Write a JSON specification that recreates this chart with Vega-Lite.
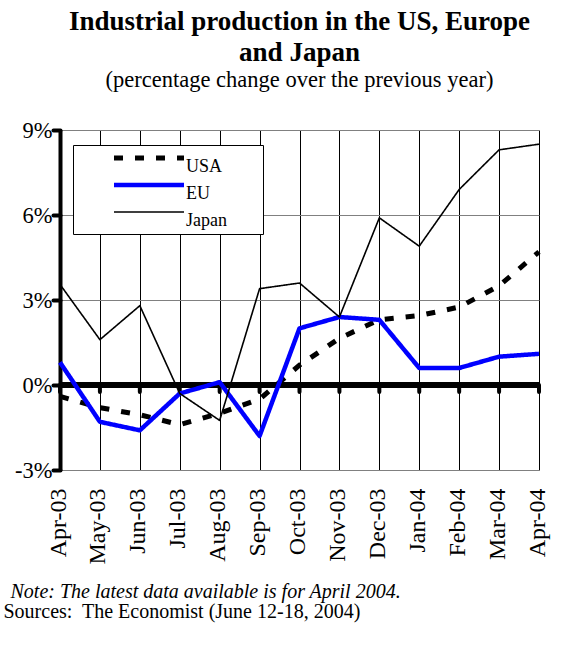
{
  "$schema": "https://vega.github.io/schema/vega-lite/v6.json",
  "autosize": {"type": "none"},
  "padding": {"left": 60, "top": 130, "right": 49, "bottom": 183},
  "width": 479,
  "height": 340,
  "background": "white",
  "title": {
    "text": ["Industrial production in the US, Europe", "and Japan"],
    "subtitle": "(percentage change over the previous year)",
    "font": "Liberation Serif",
    "fontSize": 27,
    "fontWeight": "bold",
    "lineHeight": 31,
    "subtitleFont": "Liberation Serif",
    "subtitleFontSize": 22.5,
    "subtitleColor": "black",
    "subtitlePadding": 2,
    "color": "black",
    "anchor": "middle",
    "frame": "group",
    "offset": 27
  },
  "config": {
    "view": {"stroke": null}
  },
  "datasets": {
    "prod": [
      {"month": "Apr-03", "series": "USA", "value": -0.4},
      {"month": "May-03", "series": "USA", "value": -0.8},
      {"month": "Jun-03", "series": "USA", "value": -1.05},
      {"month": "Jul-03", "series": "USA", "value": -1.4},
      {"month": "Aug-03", "series": "USA", "value": -1.0},
      {"month": "Sep-03", "series": "USA", "value": -0.5},
      {"month": "Oct-03", "series": "USA", "value": 0.7},
      {"month": "Nov-03", "series": "USA", "value": 1.65},
      {"month": "Dec-03", "series": "USA", "value": 2.3},
      {"month": "Jan-04", "series": "USA", "value": 2.45},
      {"month": "Feb-04", "series": "USA", "value": 2.75},
      {"month": "Mar-04", "series": "USA", "value": 3.5},
      {"month": "Apr-04", "series": "USA", "value": 4.7},
      {"month": "Apr-03", "series": "EU", "value": 0.8},
      {"month": "May-03", "series": "EU", "value": -1.3},
      {"month": "Jun-03", "series": "EU", "value": -1.6},
      {"month": "Jul-03", "series": "EU", "value": -0.3},
      {"month": "Aug-03", "series": "EU", "value": 0.1},
      {"month": "Sep-03", "series": "EU", "value": -1.8},
      {"month": "Oct-03", "series": "EU", "value": 2.0},
      {"month": "Nov-03", "series": "EU", "value": 2.4},
      {"month": "Dec-03", "series": "EU", "value": 2.3},
      {"month": "Jan-04", "series": "EU", "value": 0.6},
      {"month": "Feb-04", "series": "EU", "value": 0.6},
      {"month": "Mar-04", "series": "EU", "value": 1.0},
      {"month": "Apr-04", "series": "EU", "value": 1.1},
      {"month": "Apr-03", "series": "Japan", "value": 3.55},
      {"month": "May-03", "series": "Japan", "value": 1.6},
      {"month": "Jun-03", "series": "Japan", "value": 2.8},
      {"month": "Jul-03", "series": "Japan", "value": -0.3},
      {"month": "Aug-03", "series": "Japan", "value": -1.25},
      {"month": "Sep-03", "series": "Japan", "value": 3.4},
      {"month": "Oct-03", "series": "Japan", "value": 3.6},
      {"month": "Nov-03", "series": "Japan", "value": 2.4},
      {"month": "Dec-03", "series": "Japan", "value": 5.9},
      {"month": "Jan-04", "series": "Japan", "value": 4.9},
      {"month": "Feb-04", "series": "Japan", "value": 6.9},
      {"month": "Mar-04", "series": "Japan", "value": 8.3},
      {"month": "Apr-04", "series": "Japan", "value": 8.5}
    ]
  },
  "data": {"name": "prod"},
  "encoding": {
    "x": {
      "field": "month",
      "type": "ordinal",
      "sort": ["Apr-03","May-03","Jun-03","Jul-03","Aug-03","Sep-03","Oct-03","Nov-03","Dec-03","Jan-04","Feb-04","Mar-04","Apr-04"],
      "scale": {"type": "point", "padding": 0},
      "axis": {
        "orient": "bottom",
        "domain": false,
        "ticks": false,
        "grid": true,
        "gridColor": "black",
        "gridWidth": 1,
        "labelAngle": 270,
        "labelFont": "Liberation Serif",
        "labelFontSize": 24,
        "labelColor": "black",
        "labelPadding": 18,
        "labelBaseline": "middle",
        "labelOffset": -2,
        "title": "Note: The latest data available is for April 2004.",
        "titleFont": "Liberation Serif",
        "titleFontSize": 20,
        "titleFontStyle": "italic",
        "titleFontWeight": "normal",
        "titleColor": "black",
        "titleAngle": 0,
        "titleAlign": "left",
        "titleBaseline": "alphabetic",
        "titleX": -50,
        "titleY": 127
      }
    }
  },
  "layer": [
    {
      "mark": {"type": "rule", "color": "black", "strokeWidth": 4.5},
      "encoding": {
        "x": null,
        "y": {"datum": 0, "type": "quantitative"}
      }
    },
    {
      "transform": [{"filter": "datum.series === 'EU'"}],
      "mark": {"type": "rule", "color": "black", "strokeWidth": 4, "strokeCap": "round"},
      "encoding": {
        "y": {"datum": 0, "type": "quantitative"},
        "y2": {"datum": -0.25}
      }
    },
    {
      "mark": {"type": "line", "strokeCap": "butt", "strokeJoin": "round"},
      "encoding": {
        "y": {
          "field": "value",
          "type": "quantitative",
          "scale": {"domain": [-3, 9], "nice": false, "zero": false},
          "axis": {
            "values": [-3, 0, 3, 6, 9],
            "labelExpr": "datum.value + '%'",
            "labelFont": "Liberation Serif",
            "labelFontSize": 22.5,
            "labelColor": "black",
            "labelPadding": 1,
            "domainColor": "black",
            "domainWidth": 4,
            "tickColor": "black",
            "tickWidth": 4,
            "tickSize": 7,
            "tickCap": "round",
            "grid": true,
            "gridColor": "#808080",
            "gridWidth": 1,
            "title": "Sources:\u00a0 The Economist (June 12-18, 2004)",
            "titleFont": "Liberation Serif",
            "titleFontSize": 20,
            "titleFontWeight": "normal",
            "titleColor": "black",
            "titleAngle": 0,
            "titleAlign": "left",
            "titleBaseline": "alphabetic",
            "titleX": -57,
            "titleY": 487
          }
        },
        "color": {
          "field": "series",
          "type": "nominal",
          "sort": ["USA", "EU", "Japan"],
          "scale": {"domain": ["USA", "EU", "Japan"], "range": ["black", "#0000FF", "black"]},
          "legend": {
            "orient": "none",
            "legendX": 13,
            "legendY": 15,
            "title": null,
            "fillColor": "white",
            "strokeColor": "black",
            "padding": 4,
            "symbolType": "M-7,0H7M20,0",
            "symbolSize": 100,
            "symbolOffset": 63,
            "labelOffset": 28,
            "labelFont": "Liberation Serif",
            "labelFontSize": 18,
            "labelColor": "black",
            "labelBaseline": "top",
            "rowPadding": -1.5
          }
        },
        "strokeDash": {
          "field": "series",
          "type": "nominal",
          "scale": {"domain": ["USA", "EU", "Japan"], "range": [[9, 12], [1, 0], [1, 0]]}
        },
        "strokeWidth": {
          "field": "series",
          "type": "nominal",
          "scale": {"type": "ordinal", "domain": ["USA", "EU", "Japan"], "range": [5, 4.5, 1.6]}
        }
      }
    }
  ]
}
